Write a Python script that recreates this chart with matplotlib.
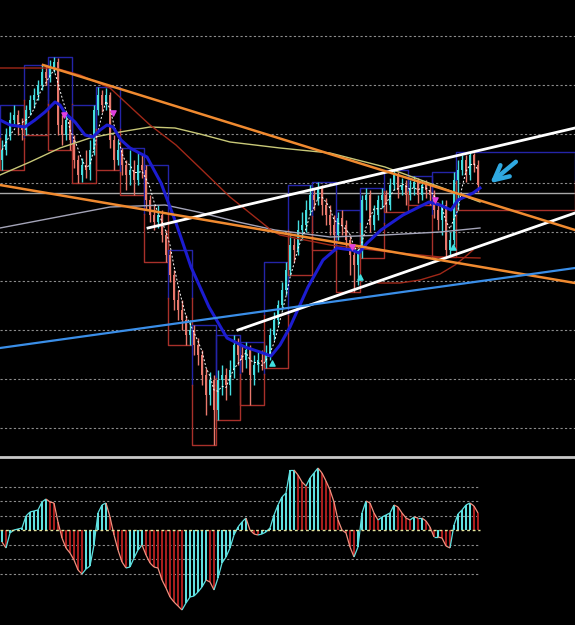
import numpy as np
import pandas as pd
import matplotlib
matplotlib.use('Agg')
import matplotlib.pyplot as plt
from matplotlib.collections import LineCollection

#################################################
##### price data (one candle per index)
#################################################

first_open = 340

close = [350, 365, 380, 385, 375, 370, 390, 400, 405, 415,
         428, 422, 432, 438, 375, 365, 380, 360, 340, 325,
         335, 330, 350, 390, 405, 395, 405, 360, 340, 350,
         335, 325, 330, 320, 335, 330, 300, 285, 278, 285,
         265, 245, 225, 200, 190, 180, 165, 170, 155, 145,
         125, 105, 120, 90, 120, 125, 115, 130, 155, 145,
         140, 150, 125, 135, 140, 138, 145, 165, 180, 195,
         210, 230, 255, 250, 270, 275, 290, 305, 300, 312,
         295, 285, 275, 265, 282, 275, 260, 245, 235, 250,
         300, 305, 275, 285, 300, 305, 295, 315, 325, 310,
         315, 305, 312, 318, 305, 315, 310, 305, 290, 280,
         295, 250, 260, 320, 330, 340, 325, 345, 335, 315]

high = [360, 372, 388, 395, 390, 382, 395, 405, 412, 420,
        435, 434, 440, 443, 442, 385, 388, 382, 365, 345,
        342, 350, 360, 395, 413, 410, 412, 408, 365, 360,
        352, 340, 350, 340, 348, 345, 335, 305, 295, 295,
        290, 270, 250, 230, 210, 200, 185, 180, 175, 162,
        150, 132, 128, 125, 130, 135, 132, 140, 165, 162,
        155, 158, 155, 145, 148, 150, 155, 172, 188, 200,
        218, 238, 265, 262, 280, 288, 300, 315, 312, 318,
        315, 302, 295, 285, 288, 290, 280, 265, 255, 255,
        305, 312, 310, 295, 305, 312, 310, 322, 330, 328,
        322, 320, 320, 324, 322, 320, 320, 315, 310, 298,
        300, 300, 268, 328, 340, 345, 345, 348, 347, 340]

low = [330, 345, 360, 375, 365, 360, 365, 385, 392, 400,
       410, 415, 418, 428, 365, 355, 360, 350, 332, 317,
       318, 322, 320, 345, 385, 388, 390, 352, 330, 335,
       325, 310, 315, 305, 315, 322, 290, 278, 270, 272,
       258, 238, 218, 190, 180, 170, 155, 155, 145, 135,
       115, 85, 95, 55, 80, 105, 100, 105, 122, 135,
       128, 132, 95, 115, 128, 130, 132, 140, 160, 175,
       190, 205, 225, 238, 245, 260, 268, 285, 290, 295,
       285, 275, 265, 250, 260, 265, 252, 225, 208, 215,
       242, 290, 268, 270, 280, 292, 288, 290, 310, 302,
       305, 295, 300, 305, 297, 300, 302, 295, 282, 270,
       265, 243, 245, 255, 290, 325, 318, 320, 328, 308]

# oscillator histogram
osc = [-12, -18, -3, 0, 1, 2, 14, 18, 19, 20,
       28, 31, 28, 27, 8, -8, -18, -23, -30, -40,
       -44, -39, -36, -15, 17, 25, 27, 13, -5, -20,
       -32, -38, -37, -28, -20, -15, -25, -33, -37, -38,
       -50, -58, -67, -72, -76, -80, -73, -67, -66, -62,
       -57, -50, -52, -60, -48, -33, -27, -18, -5, 3,
       8, 12, 0, -4, -5, -4, -2, 2, 15, 25,
       33, 37, 60, 60, 55, 48, 44, 52, 57, 62,
       57, 49, 40, 28, 10, 0, -3, -17, -27, -17,
       17, 29, 27, 17, 10, 13, 15, 17, 25, 23,
       17, 12, 10, 13, 12, 12, 9, 3, -7, -7,
       -8, -16, -18, 5, 16, 20, 25, 27, 24, 17]

## moving averages (index, price)
ma_blue_x = [-0.5, 2, 5.75, 8.25, 10.75, 13.25, 14.5, 15.75, 18.25, 20.75,
             22.75, 24.5, 26.25, 27.75, 29.75, 32, 36.25, 39.75, 43.5, 47.25,
             51.75, 56.25, 60.75, 64.5, 67.25, 69.5, 72, 76.5, 80.25, 83.75,
             87.5, 89.25, 91.25, 94.75, 100.25, 106.75, 109.5, 112.25, 114, 117.75, 119.5]
ma_blue_y = [380, 375, 373, 380, 388, 398, 395, 387, 378, 365,
             363, 370, 375, 373, 360, 352, 343, 317, 277, 233,
             193, 162, 153, 148, 144, 155, 173, 213, 240, 252,
             250, 247, 257, 270, 285, 298, 295, 290, 300, 307, 312]

ma_red_x = [-0.5, 13.25, 19.5, 27, 37, 43.5, 49.5, 57, 67.25, 69.5, 82, 97, 109.5, 119.5]
ma_red_y = [432, 432, 425, 412, 375, 355, 332, 303, 270, 265, 255, 248, 243, 242]

ma_yellow_x = [-0.5, 7, 14.5, 22, 29.5, 37, 43.25, 49.5, 57, 69.5, 82, 95.75, 109.5, 119.5]
ma_yellow_y = [325, 338, 352, 362, 368, 373, 372, 366, 358, 352, 347, 333, 313, 298]

ma_gray_x = [-0.5, 27, 40.75, 49, 59, 68.25, 82, 95.75, 109.5, 119.5]
ma_gray_y = [272, 293, 295, 288, 278, 270, 263, 265, 268, 272]

# hand drawn arc under the last lows
arc_x = [94, 99.5, 104.5, 109.5, 113.25, 115.75, 117.75]
arc_y = [217, 217, 220, 226, 235, 243, 250]

## trendlines: (x0, y0, x1, y1)
white_lines = [(36.5, 272, 143.25, 372), (59, 170, 143.25, 287)]
orange_lines = [(10.25, 435, 143.25, 270), (-0.5, 315, 143.25, 217)]
blue_line = (-0.5, 152, 143.25, 232)
price_level = 307

# signal arrows
sell_x = [15.5, 27.75, 87.5, 108.25]
sell_y = [385, 387, 253, 300]
buy_x = [67.5, 89.5, 112.75]
buy_y = [137, 223, 253]

# big hand drawn arrow (tail -> head)
note_tail = (129, 340)
note_head = (121.5, 315)

BLOCK = 6
XMAX = 143.25

#################################################
##### figure
#################################################

fig = plt.figure(figsize=(5.75, 6.25), dpi=100)
fig.patch.set_facecolor('black')
ax1 = fig.add_axes([0, 0.272, 1, 0.728])
ax2 = fig.add_axes([0, 0, 1, 0.2688], sharex=ax1)

for ax in (ax1, ax2):
    ax.set_facecolor('black')
    ax.set_xticks([])
    ax.set_yticks([])
    for s in ax.spines.values():
        s.set_visible(False)
ax2.spines['top'].set_visible(True)
ax2.spines['top'].set_color('#c8c8c8')
ax2.spines['top'].set_linewidth(2)

close = np.array(close, dtype=float)
high = np.array(high, dtype=float)
low = np.array(low, dtype=float)
n = len(close)
idx = np.arange(n)
opens = np.r_[first_open, close[:-1]]
high = np.maximum(high, np.maximum(opens, close))
low = np.minimum(low, np.minimum(opens, close))

# grid
for lvl in np.arange(464, 60, -49):
    ax1.axhline(lvl, color='#8c8c8c', lw=0.8, ls=(0, (2, 2)), zorder=1)
ax1.axhline(price_level, color='#a8a8a8', lw=1, zorder=1)

# higher timeframe boxes
box_blue = '#2424a8'
box_red = '#a8302a'
for b in range(0, n, BLOCK):
    hi = high[b:b + BLOCK].max()
    lo = low[b:b + BLOCK].min()
    mid = (hi + lo) / 2
    x0 = b - 0.5
    x1 = min(b + BLOCK, n) - 0.5
    if b + BLOCK >= n:
        x1 = XMAX
    ax1.plot([x0, x0, x1, x1], [mid, hi, hi, mid], color=box_blue, lw=1, zorder=2)
    ax1.plot([x0, x0, x1, x1], [mid, lo, lo, mid], color=box_red, lw=1, zorder=2)

# candles
up = close >= opens
colors = np.where(up, '#45dde0', '#e8786c')
ax1.vlines(idx, low, high, colors=colors, lw=1, zorder=3)
ax1.bar(idx, np.maximum(np.abs(close - opens), 1.5), bottom=np.minimum(close, opens),
        width=0.7, color=colors, lw=0, zorder=3)

# moving averages
ax1.plot(ma_gray_x, ma_gray_y, color='#a4a4b8', lw=1, zorder=4)
ax1.plot(ma_yellow_x, ma_yellow_y, color='#c8c878', lw=1, zorder=4)
ax1.plot(ma_red_x, ma_red_y, color='#a02818', lw=1, zorder=4)
ax1.plot(arc_x, arc_y, color='#a02818', lw=1, zorder=4)
sma = pd.Series(close).rolling(4, min_periods=1).mean()
ax1.plot(idx, sma, color='white', lw=0.7, ls=(0, (2, 2)), zorder=4)
ax1.plot(ma_blue_x, ma_blue_y, color='#1c1cd0', lw=2.2, zorder=4)

# trendlines
for x0, y0, x1, y1 in white_lines:
    ax1.plot([x0, x1], [y0, y1], color='white', lw=2, zorder=5)
for x0, y0, x1, y1 in orange_lines:
    ax1.plot([x0, x1], [y0, y1], color='#f08a30', lw=1.8, zorder=5)
ax1.plot(blue_line[::2], blue_line[1::2], color='#3a8ee8', lw=1.6, zorder=5)

ax1.scatter(sell_x, sell_y, marker='v', s=14, color='#e040e0', zorder=6)
ax1.scatter(buy_x, buy_y, marker='^', s=14, color='#40e0e0', zorder=6)

ax1.annotate('', xy=note_head, xytext=note_tail,
             arrowprops=dict(arrowstyle='->', color='#2fa8e0', lw=3.2, mutation_scale=26),
             zorder=7)

ax1.set_xlim(-0.5, XMAX)
ax1.set_ylim(45, 500)

#################################################
##### oscillator
#################################################

osc = np.array(osc, dtype=float)
rising = np.diff(osc, prepend=osc[0]) >= 0
osc_end = n - 0.5

for lvl in [43.5, 29, 14.5, -14.5, -29, -43.5]:
    ax2.hlines(lvl, -0.5, osc_end, color='#8c8c8c', lw=0.8, ls=(0, (2, 2)), zorder=1)

ax2.bar(idx[~rising], osc[~rising], width=0.65, color='#a81e1e', lw=0, zorder=2)
ax2.bar(idx[rising], osc[rising], width=0.4, color='#5fe0e0', lw=0, zorder=2)

pts = np.column_stack([idx, osc])
segs = np.stack([pts[:-1], pts[1:]], axis=1)
seg_cols = np.where(rising[1:], '#5fe0e0', '#f0907f')
ax2.add_collection(LineCollection(segs, colors=seg_cols, lw=0.9, zorder=3))

ax2.hlines(0, -0.5, osc_end, color='#e8e8a0', lw=1, ls=(0, (2, 2)), zorder=4)
ax2.set_ylim(-95, 73)
ax2.set_xlim(-0.5, XMAX)

fig.savefig('out.png', dpi=100, facecolor='black')
